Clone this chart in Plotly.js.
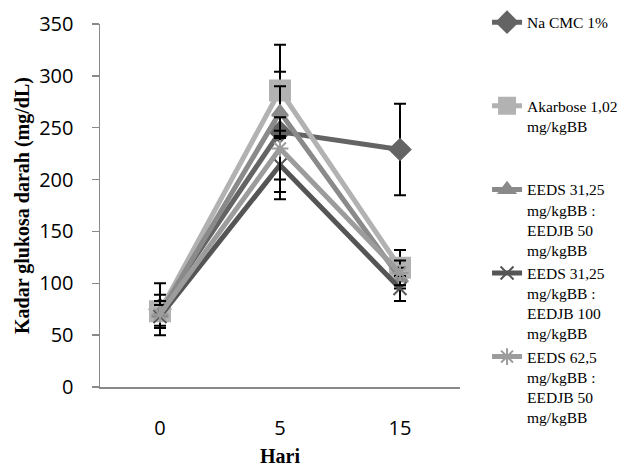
<!DOCTYPE html>
<html>
<head>
<meta charset="utf-8">
<script src="https://cdn.plot.ly/plotly-3.0.1.min.js"></script>
<style>html,body{margin:0;padding:0;background:#fff;}#chart{width:640px;height:467px;}</style>
</head>
<body>
<div id="chart"></div>
<script>
var days = ["0", "5", "15"];
var seriesNames = [
  "Na CMC 1%",
  "Akarbose 1,02<br>mg/kgBB",
  "EEDS 31,25<br>mg/kgBB :<br>EEDJB 50<br>mg/kgBB",
  "EEDS 31,25<br>mg/kgBB :<br>EEDJB 100<br>mg/kgBB",
  "EEDS 62,5<br>mg/kgBB :<br>EEDJB 50<br>mg/kgBB"
];
var naCmc = [75, 246, 229];
var naCmcErr = [25, 58, 44];
var akarbose = [73, 286, 115];
var akarboseErr = [16, 44, 17];
var eeds3125_50 = [71, 265, 105];
var eeds3125_50Err = [12, 25, 10];
var eeds3125_100 = [68, 214, 95];
var eeds3125_100Err = [11, 33, 12];
var eeds625_50 = [70, 230, 110];
var eeds625_50Err = [13, 30, 12];

var values = [naCmc, akarbose, eeds3125_50, eeds3125_100, eeds625_50];
var errs = [naCmcErr, akarboseErr, eeds3125_50Err, eeds3125_100Err, eeds625_50Err];
var colors = ["#646464", "#b2b2b2", "#8a8a8a", "#555555", "#9c9c9c"];
var symbols = ["diamond", "square", "triangle-up", "x-thin-open", "asterisk-open"];
var sizes = [16, 20, 14, 13, 14];

function pad(name) {
  var n = name.split("<br>").length;
  var s = name;
  for (var i = n; i < 4; i++) s += "<br> ";
  return s;
}

var traces = values.map(function (v, i) {
  return {
    x: days, y: v, name: pad(seriesNames[i]), type: "scatter", mode: "lines+markers",
    line: {color: colors[i], width: 5},
    marker: {symbol: symbols[i], size: sizes[i], color: colors[i], line: {color: colors[i], width: 2}},
    error_y: {type: "data", array: errs[i], visible: true, color: "#000000", thickness: 2, width: 6}
  };
});

var serif = "Times New Roman, Liberation Serif, serif";

var layout = {
  width: 640, height: 467,
  margin: {l: 100, r: 180, t: 24, b: 80},
  paper_bgcolor: "#fff", plot_bgcolor: "#fff",
  showlegend: true,
  legend: {
    xref: "container", yref: "container",
    x: 0.761, xanchor: "left", y: 0.988, yanchor: "top",
    font: {family: serif, size: 15.5, color: "#000"},
    valign: "top", tracegroupgap: 0, itemwidth: 30, maxheight: 467,
    bgcolor: "rgba(0,0,0,0)"
  },
  xaxis: {
    type: "category", range: [-0.5, 2.5],
    showgrid: false, zeroline: false, showline: true, linecolor: "#898989", linewidth: 1.5,
    ticks: "", ticklabelstandoff: 22,
    tickfont: {family: "Open Sans", size: 20, color: "#000"},
    title: {text: "<b>Hari</b>", font: {family: serif, size: 20, color: "#000"}, standoff: 14}
  },
  yaxis: {
    range: [0, 350], dtick: 50, tick0: 0,
    showgrid: false, zeroline: false, showline: true, linecolor: "#898989", linewidth: 1.5,
    ticks: "outside", ticklen: 7, tickcolor: "#898989", tickwidth: 1.5, ticklabelstandoff: 14,
    tickfont: {family: "Open Sans", size: 20, color: "#000"},
    title: {text: "<b>Kadar glukosa darah (mg/dL)</b>", font: {family: serif, size: 20, color: "#000"}, standoff: 4}
  }
};

Plotly.newPlot("chart", traces, layout, {displayModeBar: false, staticPlot: true});
</script>
</body>
</html>
